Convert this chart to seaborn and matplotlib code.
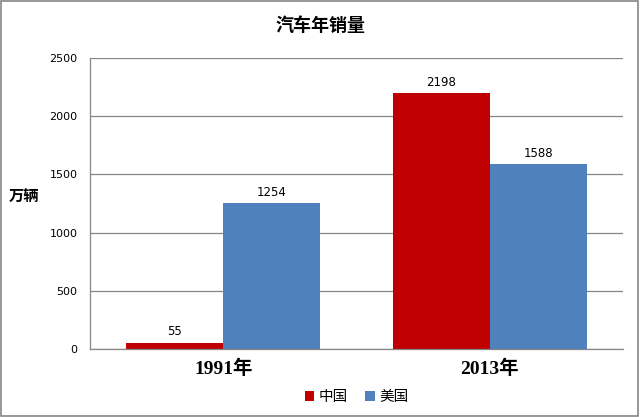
import pandas as pd
import numpy as np
import matplotlib
matplotlib.use('Agg')
import matplotlib.pyplot as plt
import seaborn as sns

# data
years = ['1991年', '2013年']
countries = ['中国', '美国']
china = [55, 2198]
usa = [1254, 1588]

data = pd.DataFrame({
    'year': years * 2,
    'country': [countries[0]] * 2 + [countries[1]] * 2,
    'sales': china + usa,
})

sns.set_style('white')
plt.rcParams['font.family'] = ['Noto Sans CJK SC', 'DejaVu Sans']
plt.rcParams['text.color'] = 'black'
plt.rcParams['xtick.color'] = 'black'
plt.rcParams['ytick.color'] = 'black'
plt.rcParams['axes.labelcolor'] = 'black'

fig = plt.figure(figsize=(6.4, 4.17), dpi=100)
ax = fig.add_axes([0.1406, 0.163, 0.833, 0.698])
sns.barplot(data=data, x='year', y='sales', hue='country',
            palette=['#C00000', '#4F81BD'], width=0.727, ax=ax,
            saturation=1, linewidth=0, edgecolor='none')

for c in ax.containers:
    ax.bar_label(c, fmt='%d', fontsize=8.5, padding=3, family='DejaVu Sans')

ax.set_xlim(-0.5, 1.5)
ax.set_ylim(0, 2500)
ax.set_yticks(np.arange(0, 2501, 500))
ax.yaxis.grid(True, color='#868686', linewidth=0.9)
ax.set_axisbelow(True)
ax.tick_params(axis='y', labelsize=8, length=0, pad=9)
ax.tick_params(axis='x', length=0, pad=8)
for lbl in ax.get_yticklabels():
    lbl.set_family('DejaVu Sans')
for lbl in ax.get_xticklabels():
    lbl.set_family(['Liberation Serif', 'Noto Sans CJK SC'])
    lbl.set_fontsize(14)
    lbl.set_fontweight('bold')

for s in ['top', 'right']:
    ax.spines[s].set_visible(False)
for s in ['left', 'bottom']:
    ax.spines[s].set_color('#868686')
    ax.spines[s].set_linewidth(0.9)

ax.set_xlabel('')
ax.set_ylabel('万辆', rotation=0, fontsize=11, fontweight='bold')
ax.yaxis.set_label_coords(-0.123, 0.5)

ax.legend(loc='center', bbox_to_anchor=(0.5, -0.165), ncol=2, frameon=False,
          fontsize=10.5, handlelength=0.65, handleheight=0.65, handletextpad=0.3,
          columnspacing=1.2)

fig.text(0.5, 0.94, '汽车年销量', ha='center', va='center', fontsize=13, fontweight='bold')

fig.patches.append(plt.Rectangle((0.002, 0.003), 0.995, 0.994, transform=fig.transFigure,
                                 fill=False, edgecolor='#868686', linewidth=1.2))

fig.savefig('out.png', dpi=100)
